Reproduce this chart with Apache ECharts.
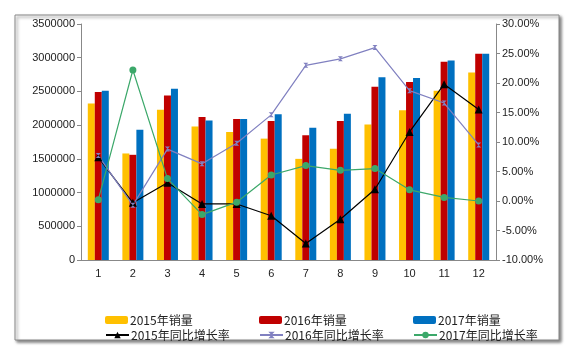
<!DOCTYPE html>
<html><head><meta charset="utf-8">
<script src="https://cdn.jsdelivr.net/npm/echarts@6/dist/echarts.min.js"></script>
<style>html,body{margin:0;padding:0;background:#fff}#c{width:576px;height:357px}</style>
</head><body><div id="c"></div>
<script>
const categories = ['1','2','3','4','5','6','7','8','9','10','11','12'];
const sales2015 = [2320000,1580000,2230000,1980000,1900000,1800000,1500000,1650000,2010000,2220000,2510000,2780000];
const sales2016 = [2490000,1560000,2440000,2120000,2090000,2060000,1850000,2060000,2570000,2640000,2940000,3060000];
const sales2017 = [2510000,1930000,2540000,2070000,2090000,2160000,1960000,2170000,2710000,2700000,2960000,3060000];
const growth2015 = [7.4,-0.3,3.1,-0.5,-0.5,-2.5,-7.2,-3.1,2.0,11.7,19.8,15.5];
const growth2016 = [7.7,-0.7,8.8,6.3,9.8,14.6,23.0,24.1,26.0,18.7,16.6,9.5];
const growth2017 = [0.2,22.2,3.8,-2.3,-0.2,4.4,6.0,5.2,5.5,1.9,0.6,0.0];
const names = ['2015年销量','2016年销量','2017年销量','2015年同比增长率','2016年同比增长率','2017年同比增长率'];

const font = '"Noto Sans CJK SC", "DejaVu Sans", sans-serif';
const numFont = '"Liberation Sans", "DejaVu Sans", sans-serif';
const colors = ['#FFC000','#C00000','#0070C0','#000000','#8080C0','#3CA86A'];
const chart = echarts.init(document.getElementById('c'));
const legendPos = [[105,314],[259,314],[413,314],[105,329],[259,329],[413,329]];
const legends = names.map((n,i)=>({
  data:[n], left: legendPos[i][0], top: legendPos[i][1], itemWidth: 23, itemHeight: 8,
  itemGap: 2, textStyle:{fontSize:12, color:'#222', fontFamily: font, padding:[0,0,0,-3]}, padding:0, selectedMode:false
}));
chart.setOption({
  animation:false,
  color: colors,
  graphic:[{type:'rect', shape:{x:15,y:15,width:544,height:325}, style:{fill:'#fff', stroke:'#888', lineWidth:1, shadowBlur:3, shadowOffsetX:2, shadowOffsetY:2, shadowColor:'rgba(0,0,0,0.5)'}, z:-10}],
  legend: legends,
  grid:{left:81, right:80, top:24, bottom:97},
  xAxis:{type:'category', data:categories, axisLine:{lineStyle:{color:'#888'}}, axisTick:{alignWithLabel:false, length:4, lineStyle:{color:'#888'}},
    axisLabel:{color:'#222', fontSize:11, fontFamily:numFont, margin:8}},
  yAxis:[
    {type:'value', min:0, max:3500000, interval:500000, splitLine:{show:false},
     axisLine:{show:true, lineStyle:{color:'#888'}}, axisTick:{show:true, length:4, lineStyle:{color:'#888'}},
     axisLabel:{color:'#222', fontSize:11, fontFamily:numFont, margin:6, formatter:v=>String(v)}},
    {type:'value', min:-10, max:30, interval:5, splitLine:{show:false}, position:'right',
     axisLine:{show:true, lineStyle:{color:'#888'}}, axisTick:{show:true, length:4, lineStyle:{color:'#888'}},
     axisLabel:{color:'#222', fontSize:11, fontFamily:numFont, margin:6, formatter:v=>v.toFixed(2)+'%'}}
  ],
  series:[
    {name:names[0], type:'bar', data:sales2015, barWidth:7, barGap:'0%'},
    {name:names[1], type:'bar', data:sales2016, barWidth:7, barGap:'0%'},
    {name:names[2], type:'bar', data:sales2017, barWidth:7, barGap:'0%'},
    {name:names[3], type:'line', yAxisIndex:1, data:growth2015, symbol:'triangle', symbolSize:8, lineStyle:{width:1.2, color:'#000'}, itemStyle:{color:'#000'}},
    {name:names[4], type:'line', yAxisIndex:1, data:growth2016, symbol:'path://M0,0L10,0L5,5L10,10L0,10L5,5Z', symbolSize:5, lineStyle:{width:1.2, color:'#8080C0'}, itemStyle:{color:'#8080C0'}},
    {name:names[5], type:'line', yAxisIndex:1, data:growth2017, symbol:'circle', symbolSize:7, lineStyle:{width:1.2, color:'#3CA86A'}, itemStyle:{color:'#3CA86A'}}
  ]
});
</script></body></html>
